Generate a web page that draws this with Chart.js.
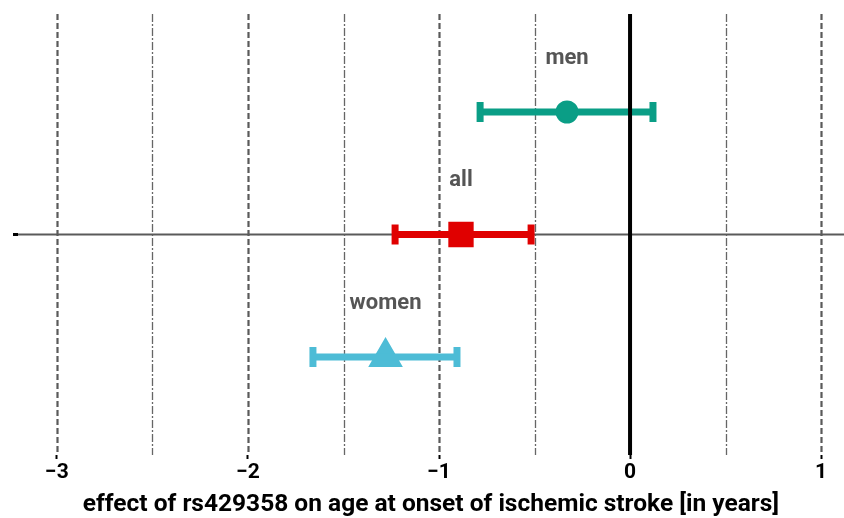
<!DOCTYPE html>
<html lang="en">
<head>
  <meta charset="UTF-8" />
  <title>rs429358 effect on age at onset</title>
  <script src="https://cdn.jsdelivr.net/npm/chart.js"></script>
  <style>
    html, body { margin: 0; padding: 0; background: #ffffff; }
    #wrap { width: 844px; height: 518px; }
  </style>
</head>
<body>
  <div id="wrap"><canvas id="forest"></canvas></div>

  <script>
    // groups, top to bottom
    const groups = ['men', 'all', 'women'];
    const rows = [1, 0, -1];
    const estimates = [-0.33, -0.885, -1.28];
    const lower = [-0.785, -1.23, -1.66];
    const upper = [0.12, -0.518, -0.906];
    const colors = ['#0a9e86', '#e00000', '#4dbcd6'];
    const markers = ['circle', 'rect', 'triangle'];
    const markerSize = [10.5, 16.5, 18];

    const xTicks = [-3, -2, -1, 0, 1];
    const majorLines = [-3, -2, -1, 1];
    const minorLines = [-2.5, -1.5, -0.5, 0.5];

    // error bar for each group: a line from lower to upper with vertical caps
    const barSets = groups.map((g, i) => ({
      type: 'line',
      label: g + ' CI',
      data: [{ x: lower[i], y: rows[i] }, { x: upper[i], y: rows[i] }],
      borderColor: colors[i],
      backgroundColor: colors[i],
      borderWidth: 7,
      pointStyle: 'line',
      pointRotation: 90,
      pointRadius: 10,
      pointBorderWidth: 7,
      pointBorderColor: colors[i],
      pointHoverRadius: 10
    }));

    const pointSet = {
      type: 'scatter',
      label: 'estimate',
      data: groups.map((g, i) => ({ x: estimates[i], y: rows[i] })),
      pointStyle: markers,
      pointRadius: markerSize,
      pointHoverRadius: markerSize,
      backgroundColor: colors,
      borderColor: colors,
      borderWidth: 2
    };

    // vertical reference lines + horizontal line + group names
    const refLines = {
      id: 'refLines',
      beforeDatasetsDraw(chart) {
        const { ctx, chartArea: a, scales: { x, y } } = chart;
        ctx.save();
        ctx.strokeStyle = '#5a5a5a';
        ctx.lineWidth = 2.2;
        ctx.setLineDash([6, 3]);
        majorLines.forEach(v => {
          const px = Math.round(x.getPixelForValue(v)) + 0.5;
          ctx.beginPath(); ctx.moveTo(px, a.top); ctx.lineTo(px, a.bottom); ctx.stroke();
        });
        ctx.lineWidth = 1.3;
        ctx.setLineDash([8, 2, 2, 2]);
        ctx.strokeStyle = '#666666';
        minorLines.forEach(v => {
          const px = Math.round(x.getPixelForValue(v)) + 0.5;
          ctx.beginPath(); ctx.moveTo(px, a.top); ctx.lineTo(px, a.bottom); ctx.stroke();
        });
        ctx.setLineDash([]);
        ctx.strokeStyle = '#5a5a5a';
        ctx.lineWidth = 2;
        const py = y.getPixelForValue(0);
        ctx.beginPath(); ctx.moveTo(a.left, py); ctx.lineTo(a.right, py); ctx.stroke();
        ctx.restore();
      },
      afterDatasetsDraw(chart) {
        const { ctx, chartArea: a, scales: { x, y } } = chart;
        ctx.save();
        ctx.strokeStyle = '#000000';
        ctx.lineWidth = 4;
        const px = x.getPixelForValue(0);
        ctx.beginPath(); ctx.moveTo(px, a.top); ctx.lineTo(px, a.bottom); ctx.stroke();

        ctx.fillStyle = '#555555';
        ctx.font = 'bold 22px Roboto';
        ctx.textAlign = 'center';
        ctx.textBaseline = 'middle';
        groups.forEach((g, i) => {
          ctx.fillText(g, x.getPixelForValue(estimates[i]), y.getPixelForValue(rows[i]) - 54);
        });
        ctx.restore();
      }
    };

    new Chart(document.getElementById('forest'), {
      data: { datasets: [...barSets, pointSet] },
      options: {
        responsive: true,
        maintainAspectRatio: false,
        animation: false,
        layout: { autoPadding: false, padding: { top: 14, left: 0, right: 0, bottom: 0 } },
        plugins: { legend: { display: false }, tooltip: { enabled: false } },
        scales: {
          x: {
            type: 'linear',
            min: -3.204,
            max: 1.12,
            afterBuildTicks: s => { s.ticks = xTicks.map(v => ({ value: v })); },
            afterFit: s => { s.height = 63; s.paddingLeft = 0; s.paddingRight = 0; },
            border: { display: false },
            grid: { drawOnChartArea: false, drawTicks: true, tickLength: 4, tickColor: '#000', tickWidth: 2 },
            ticks: {
              padding: 1,
              color: '#000',
              font: { family: 'Roboto', size: 21, weight: 'bold' },
              callback: v => (v < 0 ? '\u2212' + Math.abs(v) : String(v))
            },
            title: {
              display: true,
              text: 'effect of rs429358 on age at onset of ischemic stroke [in years]',
              color: '#000',
              font: { family: 'Roboto', size: 24.5, weight: 'bold' },
              padding: { top: 0, bottom: -2 }
            }
          },
          y: {
            type: 'linear',
            min: -1.8,
            max: 1.8,
            afterBuildTicks: s => { s.ticks = [{ value: 0 }]; },
            afterFit: s => { s.width = 18; s.paddingTop = 0; s.paddingBottom = 0; },
            border: { display: false },
            grid: { drawOnChartArea: false, drawTicks: true, tickLength: 5, tickColor: '#000', tickWidth: 3 },
            ticks: { display: false }
          }
        }
      },
      plugins: [refLines]
    });
  </script>
</body>
</html>
